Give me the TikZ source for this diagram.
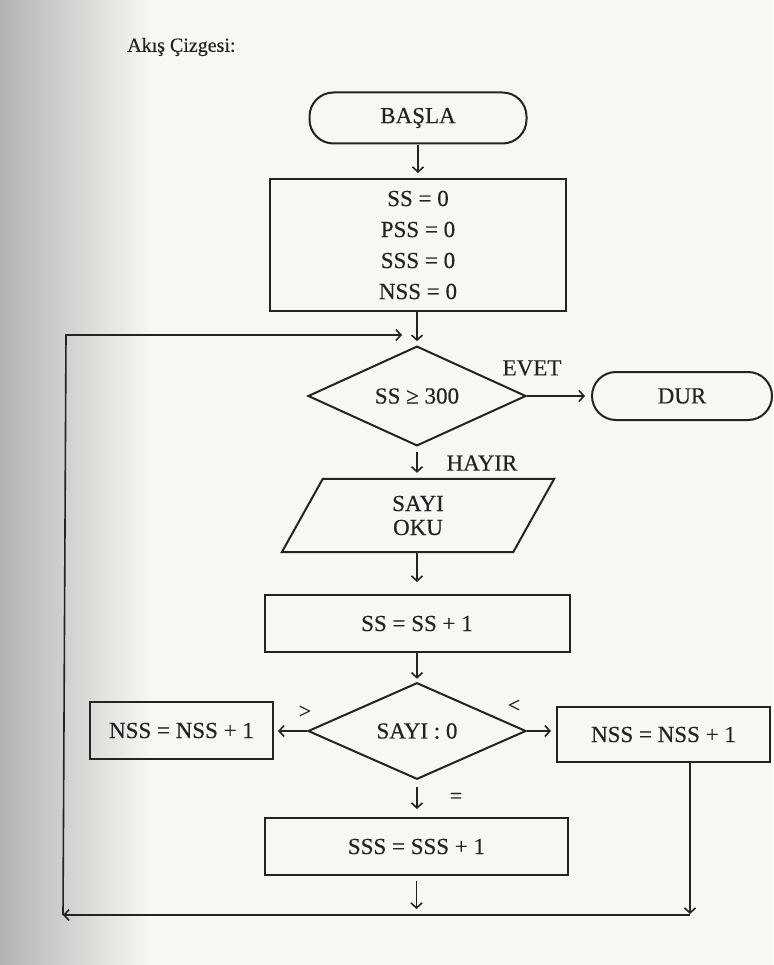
\documentclass[tikz,border=0pt]{standalone}
\usepackage{fontspec}
\setmainfont{Liberation Serif}[FakeBold=0.35]
\usetikzlibrary{shapes.geometric,arrows.meta,calc}
\definecolor{paper}{RGB}{248,247,243}
\definecolor{ink}{RGB}{35,35,35}
\begin{document}
\begin{tikzpicture}[x=1pt,y=-1pt,
  every node/.style={font=\fontsize{23}{27}\selectfont, text=ink},
  box/.style={draw=ink, line width=2pt, rectangle, inner sep=0pt},
  pill/.style={box, rounded corners=24pt},
  dia/.style={draw=ink, line width=2pt, diamond, inner sep=0pt},
  arr/.style={draw=ink, line width=1.6pt, -{Straight Barb[length=5pt,width=11pt]}},
  ln/.style={draw=ink, line width=2pt},
  lbl/.style={inner sep=0pt}]
\useasboundingbox (0,0) rectangle (773,965);
% scanned page background
\fill[paper] (0,0) rectangle (773,965);
\shade[left color=black!30, right color=paper] (0,0) rectangle (150,965);

% title
\node[lbl, anchor=west, font=\fontsize{20}{22}\selectfont] (title) at (127,47) {Akış Çizgesi:};

% nodes
\node[pill, minimum width=217pt, minimum height=51pt] (basla) at (418,118) {BAŞLA};
\node[box, minimum width=296pt, minimum height=132pt, align=center,
      font=\fontsize{23}{31}\selectfont] (init) at (418,245) {SS = 0\\PSS = 0\\SSS = 0\\NSS = 0};
\node[dia, minimum width=218pt, minimum height=92pt] (d1) at (417,396) {SS ≥ 300};
\node[pill, minimum width=180pt, minimum height=48pt] (dur) at (682,396) {DUR};
\node[lbl, minimum width=231pt, minimum height=73pt, align=center,
      font=\fontsize{23}{24}\selectfont] (oku) at (418,515.5) {SAYI\\OKU};
\draw[ln, line join=miter]
  ($(oku.south west)+(-20.5,0)$) -- ($(oku.south east)+(-20.5,0)$) --
  ($(oku.north east)+(20.5,0)$) -- ($(oku.north west)+(20.5,0)$) -- cycle;
\node[box, minimum width=305pt, minimum height=57pt] (inc) at (417,623.5) {SS = SS + 1};
\node[dia, minimum width=218pt, minimum height=94pt] (d2) at (417,731) {SAYI : 0};
\node[box, minimum width=183pt, minimum height=57pt] (nl) at (181.5,730.5) {NSS = NSS + 1};
\node[box, minimum width=213pt, minimum height=55pt] (nr) at (663.5,734.5) {NSS = NSS + 1};
\node[box, minimum width=303pt, minimum height=57pt] (sss) at (416.5,846.5) {SSS = SSS + 1};

% labels
\node[lbl] (evet) at (532,368) {EVET};
\node[lbl] (hayir) at (482,463) {HAYIR};
\node[lbl, font=\fontsize{22}{24}\selectfont] (gt) at (305,712) {>};
\node[lbl, font=\fontsize{22}{24}\selectfont] (lt) at (514,706) {<};
\node[lbl, font=\fontsize{22}{24}\selectfont] (eq) at (456,798) {=};

% loop coordinates
\coordinate (bl) at (63,915);
\coordinate (tl) at (66,335);
\coordinate (entry) at (402,335);
\coordinate (br) at (690,915);
\coordinate (bm) at (sss.south |- br);

% connectors
\draw[arr, shorten <=1pt, shorten >=5pt] (basla.south) -- (basla.south |- init.north);
\draw[arr, shorten >=4pt] (init.south -| d1.north) -- (d1.north);
\draw[arr, shorten >=6pt] (d1.east) -- (d1.east -| dur.west);
\draw[arr, shorten <=5pt, shorten >=6pt] (d1.south) -- (d1.south |- oku.north);
\draw[arr, shorten <=1pt, shorten >=12pt] (oku.south -| inc.north) -- (inc.north);
\draw[arr, shorten >=3pt] (inc.south) -- (d2.north);
\draw[arr, shorten >=4pt] (d2.west) -- (d2.west -| nl.east);
\draw[arr, shorten >=5pt] (d2.east) -- (d2.east -| nr.west);
\draw[arr, shorten <=7pt, shorten >=8pt] (d2.south) -- (d2.south |- sss.north);
\draw[arr, shorten <=5pt, shorten >=6pt] (sss.south) -- (bm);
\draw[arr, shorten >=1pt] (nr.south -| br) -- (br);
\draw[arr] (br) -- (bl);
\draw[arr, line join=miter] (bl) -- (tl) -- (entry);
\end{tikzpicture}
\end{document}
